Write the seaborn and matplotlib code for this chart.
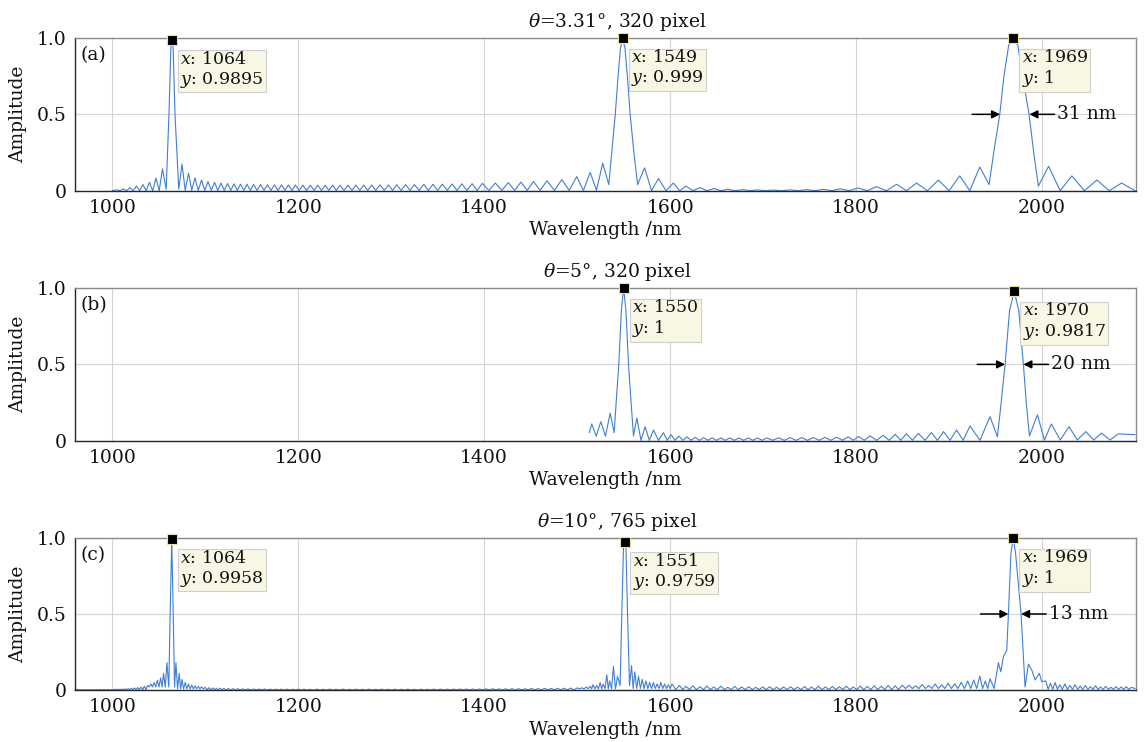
import numpy as np
import matplotlib
matplotlib.use("Agg")
import matplotlib.pyplot as plt
import seaborn as sns

sns.set_theme(style="white")
plt.rcParams["font.family"] = ["DejaVu Serif"]
plt.rcParams["mathtext.fontset"] = "dejavuserif"

# ---------------- data ----------------
# lobe runs: apex wavelengths / amplitudes (troughs sit between apexes)
# peak runs: explicit outline points of the main peaks

# (a) theta=3.31 deg, 320 pixel
a_start_x = [1000]
a_start_y = [0.0]
a_lob1_x = [1005, 1012, 1019, 1026, 1033, 1040, 1047, 1054]
a_lob1_y = [0.006, 0.012, 0.02, 0.03, 0.04, 0.055, 0.083, 0.143]
a_pk1_x = [1058, 1061, 1063, 1064, 1065.5, 1067.5, 1071.5]
a_pk1_y = [0.01, 0.5, 0.93, 0.9895, 0.93, 0.5, 0.01]
a_lob2_x = [1075, 1082, 1089, 1096, 1103, 1110, 1117, 1124, 1131, 1138,
            1145, 1152, 1159.5, 1167, 1174.5, 1182, 1189.5, 1197, 1205, 1213,
            1221, 1229, 1237, 1245, 1253.5, 1262, 1270.5, 1279, 1288, 1297,
            1306, 1315.5, 1325, 1335, 1345, 1355, 1365.5, 1376, 1387, 1398,
            1412, 1426, 1439.5, 1453, 1467.5, 1483.5, 1499.5, 1514, 1527.5]
a_lob2_y = [0.175, 0.115, 0.085, 0.07, 0.06, 0.055, 0.05, 0.047, 0.045, 0.043,
            0.042, 0.041, 0.04, 0.039, 0.038, 0.038, 0.037, 0.037, 0.036, 0.036,
            0.036, 0.036, 0.036, 0.036, 0.036, 0.037, 0.037, 0.037, 0.038, 0.038,
            0.039, 0.04, 0.04, 0.041, 0.042, 0.043, 0.044, 0.045, 0.046, 0.048,
            0.05, 0.053, 0.056, 0.06, 0.065, 0.072, 0.092, 0.12, 0.18]
a_pk2_x = [1534, 1538, 1541, 1544, 1546.5, 1549, 1551.5, 1554, 1557, 1561, 1565]
a_pk2_y = [0.04, 0.3, 0.5, 0.75, 0.93, 0.999, 0.93, 0.75, 0.5, 0.25, 0.04]
a_lob3_x = [1572.5, 1587.5, 1603.5, 1617, 1632, 1647, 1662, 1678, 1694, 1711,
            1729, 1747, 1765, 1783, 1802, 1822, 1843.5, 1865, 1888.5, 1911.5, 1933]
a_lob3_y = [0.15, 0.08, 0.05, 0.03, 0.02, 0.014, 0.01, 0.007, 0.005, 0.004,
            0.005, 0.007, 0.009, 0.012, 0.018, 0.026, 0.042, 0.05, 0.07, 0.097, 0.155]
a_pk3_x = [1943, 1948, 1954.5, 1959, 1964, 1969, 1974, 1979, 1986, 1991, 1996]
a_pk3_y = [0.04, 0.25, 0.5, 0.75, 0.95, 1.0, 0.95, 0.75, 0.5, 0.25, 0.03]
a_lob4_x = [2007, 2032, 2059, 2085.5]
a_lob4_y = [0.16, 0.097, 0.07, 0.05]
a_end_x = [2100]
a_end_y = [0.0]

# (b) theta=5 deg, 320 pixel
b_start_x = [1513]
b_start_y = [0.053]
b_lob1_x = [1515.7, 1525.4, 1535.5]
b_lob1_y = [0.11, 0.125, 0.18]
b_pk1_x = [1539.8, 1542.5, 1544.8, 1547.5, 1550, 1552.5, 1555.2, 1558, 1560.6]
b_pk1_y = [0.053, 0.3, 0.5, 0.85, 1.0, 0.85, 0.5, 0.25, 0.031]
b_lob2_x = [1564.2, 1573.1, 1582.1, 1592.8, 1601, 1609.5, 1618, 1627, 1636, 1645,
            1654.5, 1664, 1674, 1684, 1694, 1704, 1716.5, 1729, 1741.5, 1754,
            1766.5, 1779, 1791.5, 1802.5, 1815, 1829, 1842, 1854, 1867, 1881,
            1894, 1908, 1922.5, 1944]
b_lob2_y = [0.148, 0.092, 0.07, 0.053, 0.04, 0.03, 0.025, 0.022, 0.02, 0.019,
            0.018, 0.018, 0.018, 0.018, 0.018, 0.018, 0.019, 0.02, 0.02, 0.021,
            0.022, 0.023, 0.025, 0.028, 0.032, 0.035, 0.042, 0.046, 0.048, 0.053,
            0.06, 0.07, 0.097, 0.158]
b_pk2_x = [1952, 1956, 1960.2, 1965, 1970, 1975, 1979.9, 1983, 1986.4]
b_pk2_y = [0.026, 0.25, 0.5, 0.85, 0.9817, 0.85, 0.5, 0.25, 0.031]
b_lob3_x = [1995, 2010, 2029, 2047, 2064, 2082]
b_lob3_y = [0.17, 0.11, 0.092, 0.06, 0.05, 0.045]
b_end_x = [2100]
b_end_y = [0.04]

# (c) theta=10 deg, 765 pixel
c_lob0_x = [963, 967, 971, 975, 979, 983, 987, 991, 995, 999]
c_lob0_y = [0.003, 0.003, 0.003, 0.003, 0.003, 0.003, 0.004, 0.004, 0.004, 0.004]
c_lob1_x = [1003, 1006.5, 1010, 1013.5, 1017, 1020.5, 1024, 1027.5, 1031, 1034.5, 1038]
c_lob1_y = [0.005, 0.006, 0.007, 0.008, 0.01, 0.012, 0.014, 0.017, 0.02, 0.025, 0.03]
c_lob2_x = [1041.5, 1045, 1048.5, 1052, 1055.2, 1058.8]
c_lob2_y = [0.04, 0.05, 0.065, 0.08, 0.11, 0.18]
c_pk1_x = [1060.8, 1062.3, 1064, 1065.6, 1067.0]
c_pk1_y = [0.02, 0.5, 0.9958, 0.5, 0.02]
c_lob3_x = [1068.5, 1072, 1075, 1078.5, 1082, 1085.5, 1089, 1092.5, 1096, 1100]
c_lob3_y = [0.18, 0.11, 0.07, 0.05, 0.04, 0.033, 0.028, 0.024, 0.021, 0.018]
c_lob4_x = [1104, 1108, 1112, 1116, 1120, 1125, 1130, 1135, 1140, 1146,
            1152, 1158, 1164, 1170, 1176, 1182, 1188, 1194, 1200]
c_lob4_y = [0.016, 0.014, 0.013, 0.012, 0.011, 0.01, 0.009, 0.009, 0.008, 0.008,
            0.007, 0.007, 0.007, 0.006, 0.006, 0.006, 0.006, 0.006, 0.006]
c_lob5_x = [1206, 1213, 1220, 1227, 1234, 1241, 1248, 1255, 1262, 1269,
            1276, 1283, 1290, 1297, 1304, 1311, 1318, 1325, 1332, 1339,
            1346, 1353, 1360, 1367, 1374, 1381, 1388, 1395, 1402, 1409,
            1416, 1423, 1430, 1437, 1444, 1451, 1458, 1465, 1472, 1479,
            1486, 1493, 1500]
c_lob5_y = [0.006, 0.005, 0.006, 0.005, 0.006, 0.005, 0.006, 0.005, 0.006, 0.005,
            0.006, 0.005, 0.006, 0.005, 0.006, 0.005, 0.006, 0.005, 0.006, 0.005,
            0.006, 0.006, 0.006, 0.006, 0.007, 0.007, 0.007, 0.007, 0.008, 0.008,
            0.008, 0.008, 0.009, 0.009, 0.009, 0.01, 0.01, 0.011, 0.011, 0.012,
            0.012, 0.013, 0.014]
c_lob6_x = [1505, 1510, 1514, 1517, 1521, 1524.7, 1528, 1531.9, 1535, 1539, 1543.4]
c_lob6_y = [0.015, 0.02, 0.025, 0.035, 0.03, 0.05, 0.04, 0.1, 0.06, 0.155, 0.09]
c_pk2_x = [1546.2, 1548, 1549.8, 1551, 1552.5, 1554.2, 1556.3]
c_pk2_y = [0.03, 0.5, 0.93, 0.9759, 0.93, 0.5, 0.03]
c_lob7_x = [1558.5, 1562, 1566, 1570, 1574, 1578, 1582, 1586, 1590, 1594, 1598, 1602]
c_lob7_y = [0.16, 0.12, 0.09, 0.07, 0.06, 0.05, 0.05, 0.04, 0.05, 0.04, 0.035, 0.04]
c_lob8_x = [1610, 1617, 1624.5, 1632, 1639.5, 1647, 1654.5, 1662, 1669.5, 1677,
            1684.5, 1692, 1699.5, 1707, 1714.5, 1722, 1729.5, 1737, 1744.5, 1752,
            1759.5, 1767, 1774.5, 1782, 1789.5, 1797, 1804.5, 1812, 1819.5, 1827,
            1834.5, 1842, 1849.5]
c_lob8_y = [0.03, 0.025, 0.028, 0.022, 0.026, 0.02, 0.025, 0.018, 0.024, 0.02,
            0.022, 0.018, 0.02, 0.022, 0.018, 0.02, 0.022, 0.019, 0.023, 0.02,
            0.025, 0.02, 0.024, 0.022, 0.025, 0.02, 0.026, 0.024, 0.028, 0.025,
            0.03, 0.028, 0.032]
c_lob9_x = [1857, 1864, 1871, 1878, 1885, 1892, 1899, 1906, 1913, 1920,
            1926.5, 1933, 1939, 1944, 1953]
c_lob9_y = [0.032, 0.028, 0.036, 0.03, 0.04, 0.034, 0.045, 0.04, 0.05, 0.06,
            0.066, 0.092, 0.06, 0.075, 0.18]
c_pk3_x = [1955.6, 1958.4, 1962, 1963.8, 1966.5, 1969, 1971.5, 1977.4, 1979.9,
           1981.7, 1985.3, 1989, 1992.5, 1997.1, 1999.6]
c_pk3_y = [0.12, 0.22, 0.26, 0.5, 0.9, 1.0, 0.9, 0.5, 0.22,
           0.02, 0.17, 0.13, 0.066, 0.11, 0.055]
c_lob10_x = [2004, 2009, 2014, 2019, 2024.5, 2030, 2035.5, 2041, 2046.5, 2052,
             2057.5, 2063, 2068.5, 2074, 2079.5, 2085, 2090.5, 2096]
c_lob10_y = [0.06, 0.045, 0.05, 0.035, 0.04, 0.03, 0.035, 0.025, 0.03, 0.022,
             0.028, 0.02, 0.025, 0.018, 0.022, 0.02, 0.022, 0.018]
c_end_x = [2100]
c_end_y = [0.01]

# data tips, FWHM marks, titles
titles = [r"$\theta$=3.31°, 320 pixel", r"$\theta$=5°, 320 pixel", r"$\theta$=10°, 765 pixel"]
letters = ["(a)", "(b)", "(c)"]
tip_x = [[1064, 1549, 1969], [1550, 1970], [1064, 1551, 1969]]
tip_y = [[0.9895, 0.999, 1], [1, 0.9817], [0.9958, 0.9759, 1]]
fwhm_left = [1954.8, 1960.2, 1963.8]
fwhm_right = [1986.4, 1979.9, 1977.4]
fwhm_label = ["31 nm", "20 nm", "13 nm"]


def chain(*parts):
    """parts: (x, y) explicit points or (x, y, floor) lobe apexes."""
    xs, ys = [], []
    prev_lobes = False
    for part in parts:
        if len(part) == 3:
            px, py, floor = part
            for i in range(len(px)):
                if i > 0 or prev_lobes:
                    xs.append((xs[-1] + px[i]) / 2)
                    ys.append(floor)
                xs.append(px[i])
                ys.append(py[i])
            prev_lobes = True
        else:
            xs += list(part[0])
            ys += list(part[1])
            prev_lobes = False
    return np.array(xs), np.array(ys)


curve_a = chain((a_start_x, a_start_y), (a_lob1_x, a_lob1_y, 0.0), (a_pk1_x, a_pk1_y),
                (a_lob2_x, a_lob2_y, 0.002), (a_pk2_x, a_pk2_y),
                (a_lob3_x, a_lob3_y, 0.0), (a_pk3_x, a_pk3_y),
                (a_lob4_x, a_lob4_y, 0.0), (a_end_x, a_end_y))
curve_b = chain((b_start_x, b_start_y), (b_lob1_x, b_lob1_y, 0.03), (b_pk1_x, b_pk1_y),
                (b_lob2_x, b_lob2_y, 0.003), (b_pk2_x, b_pk2_y),
                (b_lob3_x, b_lob3_y, 0.005), (b_end_x, b_end_y))
curve_c = chain(([960], [0.002]), (c_lob0_x, c_lob0_y, 0.001), (c_lob1_x, c_lob1_y, 0.002),
                (c_lob2_x, c_lob2_y, 0.02), (c_pk1_x, c_pk1_y),
                (c_lob3_x, c_lob3_y, 0.008), (c_lob4_x, c_lob4_y, 0.001),
                (c_lob5_x, c_lob5_y, 0.001), (c_lob6_x, c_lob6_y, 0.008),
                (c_pk2_x, c_pk2_y), (c_lob7_x, c_lob7_y, 0.01),
                (c_lob8_x, c_lob8_y, 0.003), (c_lob9_x, c_lob9_y, 0.01),
                (c_pk3_x, c_pk3_y), (c_lob10_x, c_lob10_y, 0.005), (c_end_x, c_end_y))
curves = [curve_a, curve_b, curve_c]

# ---------------- drawing ----------------
fig = plt.figure(figsize=(11.44, 7.42), dpi=100)
fig.patch.set_facecolor("white")
boxes = [[0.0656, 0.743, 0.9274, 0.2058],
         [0.0656, 0.406, 0.9274, 0.2058],
         [0.0656, 0.070, 0.9274, 0.2050]]
line_color = "#3f7fd6"
fs = 13.5

for i in range(3):
    ax = fig.add_axes(boxes[i])
    x, y = curves[i]
    sns.lineplot(x=x, y=y, ax=ax, color=line_color, linewidth=0.8,
                 estimator=None, sort=False)
    ax.set_xlim(960, 2101)
    ax.set_ylim(0, 1)
    ax.set_xticks([1000, 1200, 1400, 1600, 1800, 2000])
    ax.set_yticks([0, 0.5, 1.0])
    ax.set_yticklabels(["0", "0.5", "1.0"])
    ax.grid(True, color="#d4d4d4", linewidth=0.8)
    ax.set_axisbelow(True)
    ax.tick_params(direction="in", length=4, width=0.8, color="#262626",
                   labelsize=fs, pad=6, labelcolor="#111111")
    for side in ["top", "right"]:
        ax.spines[side].set_color("#8a8a8a")
        ax.spines[side].set_linewidth(1.0)
    for side in ["bottom", "left"]:
        ax.spines[side].set_color("#262626")
        ax.spines[side].set_linewidth(1.0)
    ax.set_xlabel("Wavelength /nm", fontsize=fs, labelpad=3, color="#111111")
    ax.set_ylabel("Amplitude", fontsize=fs, labelpad=7, color="#111111")
    ax.set_title(titles[i], fontsize=fs, x=0.511, pad=8, color="#111111")
    ax.text(0.005, 0.89, letters[i], transform=ax.transAxes, fontsize=fs,
            va="center", ha="left", color="#111111")

    # data tips
    for tx, ty in zip(tip_x[i], tip_y[i]):
        ax.plot([tx], [ty], marker="s", markersize=7.5, color="black",
                markeredgecolor="#e8e0a0", markeredgewidth=0.8, clip_on=False, zorder=5)
        ax.annotate(f"$x$: {tx}\n$y$: {ty:g}", xy=(tx, ty), xytext=(6, -8),
                    textcoords="offset points", ha="left", va="top", fontsize=12.5,
                    linespacing=1.15, color="#111111",
                    bbox=dict(boxstyle="square,pad=0.14", fc="#f7f7e3", ec="#cfcfcf", lw=0.8),
                    zorder=6)

    # FWHM arrows
    left, right = fwhm_left[i], fwhm_right[i]
    ax.annotate("", xy=(left, 0.5), xytext=(left - 30, 0.5),
                arrowprops=dict(arrowstyle="-|>", color="black", lw=1.1, mutation_scale=12,
                                shrinkA=0, shrinkB=0))
    ax.annotate("", xy=(right, 0.5), xytext=(right + 27, 0.5),
                arrowprops=dict(arrowstyle="-|>", color="black", lw=1.1, mutation_scale=12,
                                shrinkA=0, shrinkB=0))
    ax.text(right + 30, 0.5, fwhm_label[i], fontsize=fs, va="center", ha="left",
            color="#111111")

fig.savefig("out.png", dpi=100, facecolor="white")
